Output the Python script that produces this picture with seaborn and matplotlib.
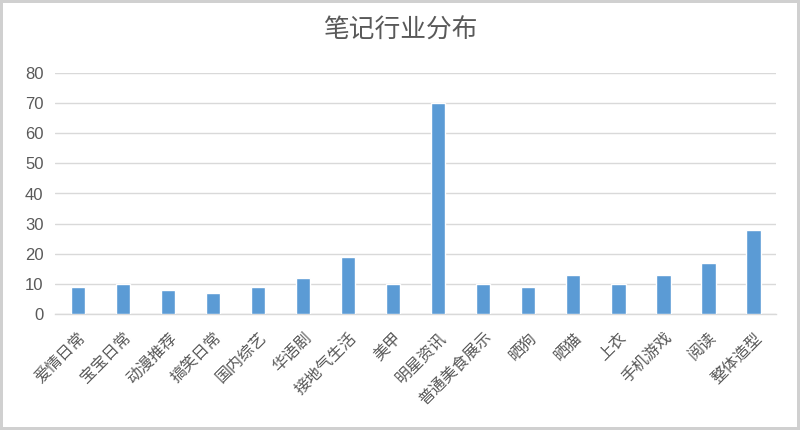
import matplotlib
matplotlib.use("Agg")
import matplotlib.pyplot as plt
import seaborn as sns
import pandas as pd

categories = ['爱情日常', '宝宝日常', '动漫推荐', '搞笑日常', '国内综艺', '华语剧', '接地气生活', '美甲',
              '明星资讯', '普通美食展示', '晒狗', '晒猫', '上衣', '手机游戏', '阅读', '整体造型']
counts = [9, 10, 8, 7, 9, 12, 19, 10, 70, 10, 9, 13, 10, 13, 17, 28]
yticks = [0, 10, 20, 30, 40, 50, 60, 70, 80]

sns.set_theme(style="white")
plt.rcParams['font.family'] = ['Noto Sans CJK SC', 'DejaVu Sans']

df = pd.DataFrame({'category': categories, 'count': counts})

fig = plt.figure(figsize=(8, 4.3), dpi=100)
fig.patch.set_edgecolor('#D0D0D0')
fig.patch.set_linewidth(3)
ax = fig.add_axes([0.069, 0.270, 0.901, 0.560])

sns.barplot(data=df, x='category', y='count', color='#5B9BD5', saturation=1,
            width=0.32, ax=ax, zorder=3)

ax.set_ylim(0, 80)
ax.set_yticks(yticks)
ax.set_xlim(-0.5, len(categories) - 0.5)
ax.grid(axis='y', color='#D9D9D9', linewidth=1, zorder=0)
for s in ['left', 'right', 'top']:
    ax.spines[s].set_visible(False)
ax.spines['bottom'].set_color('#D9D9D9')
ax.spines['bottom'].set_linewidth(1)
ax.set_xlabel('')
ax.set_ylabel('')
ax.tick_params(axis='y', labelsize=12, colors='#595959', length=0, pad=8.5)
ax.tick_params(axis='x', labelsize=11.5, colors='#595959', length=0, pad=11)
for lab in ax.get_yticklabels():
    lab.set_family(['Liberation Sans', 'DejaVu Sans'])
plt.setp(ax.get_xticklabels(), rotation=45, ha='right', rotation_mode='anchor')

fig.text(0.5, 0.928, '笔记行业分布', ha='center', va='center', fontsize=18.5,
         color='#595959', fontweight='light')

fig.savefig('out.png', dpi=100)
